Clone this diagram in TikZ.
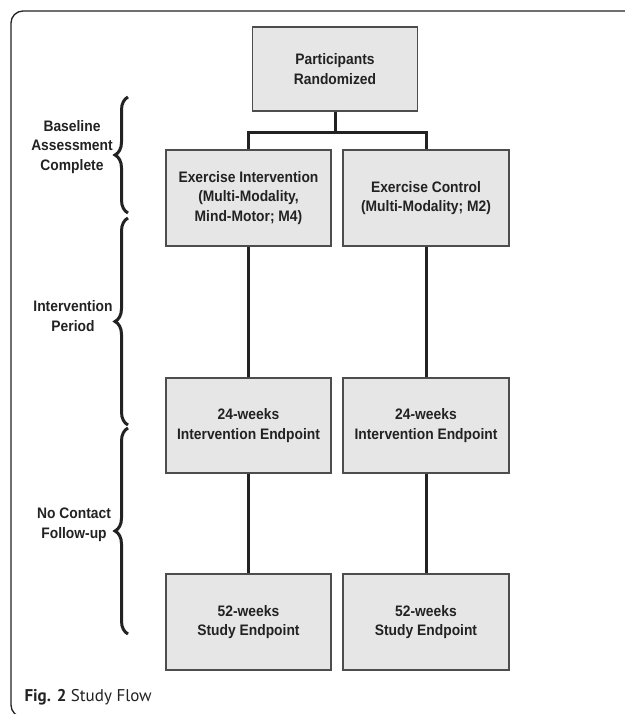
\documentclass[tikz,border=0pt]{standalone}
\usepackage{fontspec}
\setmainfont{Liberation Sans}
\newfontfamily\boxfont[FakeStretch=0.91]{Liberation Sans}
\newfontfamily\capfont{PT Sans}
\usepackage{tikz}
\usetikzlibrary{decorations.pathreplacing}

\definecolor{boxfill}{HTML}{E6E6E6}
\definecolor{boxline}{HTML}{4D4D4D}
\definecolor{ink}{HTML}{222222}

\begin{document}
\begin{tikzpicture}[
    x=1pt,
    y=-1pt,
    stage/.style={
        draw=boxline,
        line width=1.1pt,
        fill=boxfill,
        text=ink,
        align=center,
        font=\boxfont\fontsize{15.2}{19.8}\selectfont\bfseries,
        minimum width=165pt,
        inner sep=0pt
    },
    phase/.style={
        text=ink,
        align=center,
        font=\boxfont\fontsize{15.2}{19.8}\selectfont\bfseries
    },
    link/.style={
        draw=ink,
        line width=3pt,
        line join=miter
    },
    period/.style={
        draw=ink,
        line width=3pt,
        decorate,
        decoration={brace, amplitude=13pt}
    }
]

\useasboundingbox (0,0) rectangle (624,714);


\draw[ink, line width=1.3pt, rounded corners=12pt] (11,11) rectangle (640,717);


\node[stage, minimum height=84pt] (rand) at (335,69)
    {Participants\\Randomized};

\node[stage, minimum height=96pt] (intv) at (248.5,198)
    {Exercise Intervention\\(Multi-Modality,\\Mind-Motor; M4)};
\node[stage, minimum height=96pt, minimum width=166pt] (ctrl) at (426,198)
    {Exercise Control\\(Multi-Modality; M2)};

\node[stage, minimum height=95pt] (intv24) at (248.5,425.5)
    {24-weeks\\Intervention Endpoint};
\node[stage, minimum height=95pt, minimum width=166pt] (ctrl24) at (426,425.5)
    {24-weeks\\Intervention Endpoint};

\node[stage, minimum height=96pt] (intv52) at (248.5,622)
    {52-weeks\\Study Endpoint};
\node[stage, minimum height=96pt, minimum width=166pt] (ctrl52) at (426,622)
    {52-weeks\\Study Endpoint};


\coordinate (split) at (335,133);

\draw[link] (rand.south) -- (split);
\draw[link] (intv.north) |- (split) -| (ctrl.north);

\draw[link] (intv.south) -- (intv24.north);
\draw[link] (ctrl.south) -- (ctrl24.north);
\draw[link] (intv24.south) -- (intv52.north);
\draw[link] (ctrl24.south) -- (ctrl52.north);


% time periods
\node[phase] (base) at (72,147) {Baseline\\Assessment\\Complete};
\node[phase] (treat) at (73,316) {Intervention\\Period};
\node[phase] (follow) at (74,525) {No Contact\\Follow-up};

\draw[period] (128,213) -- (128,97);
\draw[period] (128,425) -- (128,218);
\draw[period] (128,634) -- (128,428);


\node[anchor=west, text=ink, font=\capfont\fontsize{17}{20}\selectfont] (cap) at (21,697)
    {\textbf{Fig. 2} Study Flow};

\end{tikzpicture}
\end{document}
